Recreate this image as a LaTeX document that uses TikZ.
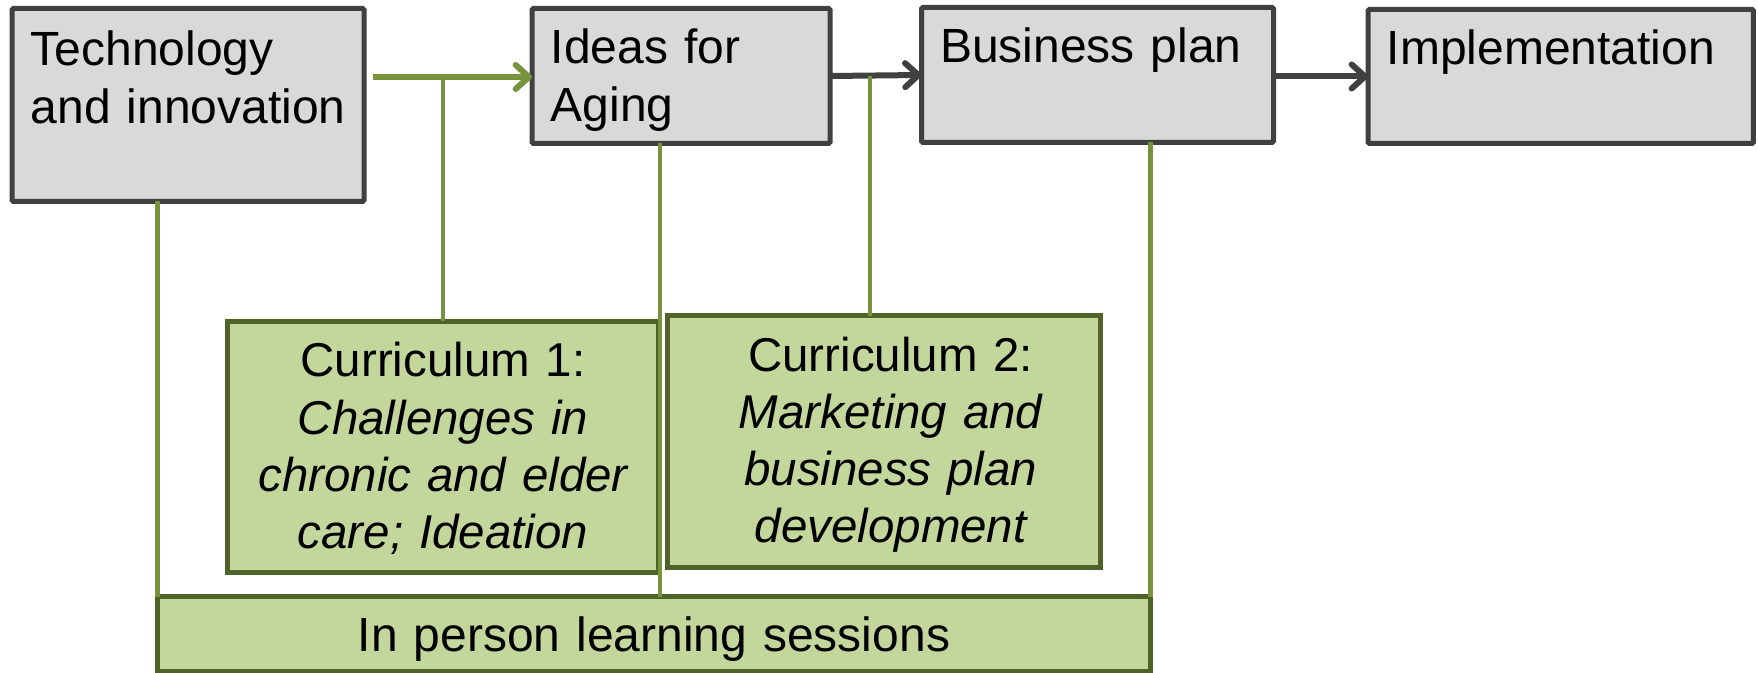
\documentclass[tikz,border=0pt]{standalone}
\usepackage{fontspec}
\setmainfont{Liberation Sans}
\usetikzlibrary{arrows.meta,calc}
\definecolor{boxgray}{HTML}{D9D9D9}
\definecolor{boxedge}{HTML}{404040}
\definecolor{curfill}{HTML}{C3D69B}
\definecolor{curedge}{HTML}{4F6228}
\definecolor{linkgreen}{HTML}{77933C}
\tikzset{
  txtfont/.style={font=\fontsize{36}{43.5}\selectfont},
  curfont/.style={font=\fontsize{35.6}{42.8}\selectfont},
  greybox/.style={txtfont, draw=boxedge, fill=boxgray, line width=3.75pt, rounded corners=1pt,
    anchor=north west, outer sep=0pt, inner xsep=14pt, inner ysep=0pt, align=left},
  greenbox/.style={txtfont, draw=curedge, fill=curfill, line width=3.75pt,
    anchor=north west, outer sep=0pt, inner xsep=14pt, inner ysep=0pt, align=center},
  greenarrow/.style={draw=linkgreen, line width=4.5pt, -{Straight Barb[length=10pt,width=18pt,round]}},
  greyarrow/.style={draw=boxedge, line width=4.5pt, -{Straight Barb[length=10pt,width=18pt,round]}},
  greenlink/.style={draw=linkgreen, line width=3.4pt}
}
\begin{document}
\begin{tikzpicture}[x=0.75pt,y=-0.75pt]
\useasboundingbox (0,0) rectangle (1758,673);
% top row
\node[greybox, text width=236pt, text height=42.4pt, text depth=102.35pt] (tech) at (12,8.5)
  {Technology\\\mbox{and innovation}};
\node[greybox, text width=195.5pt, text height=41.6pt, text depth=59.65pt] (ideas) at (532,8.5)
  {Ideas for\\Aging};
\node[greybox, text width=236pt, text height=40.9pt, text depth=60.35pt] (bp) at (921.5,7.5)
  {Business plan};
\node[greybox, text width=261.1pt, text height=40.9pt, text depth=59.6pt] (impl) at (1368,9.5)
  {Implementation};
% curricula
\node[greenbox, curfont, text width=295.25pt, text height=41.6pt, text depth=146.65pt] (cur1) at (227.5,321.5)
  {Curriculum 1:\\\itshape Challenges in\\\itshape chronic and elder\\\itshape care; Ideation};
\node[greenbox, curfont, text width=296.75pt, text height=41.25pt, text depth=147.35pt] (cur2) at (667.5,316)
  {\hspace*{10pt}Curriculum 2:\\\hspace*{10pt}\itshape Marketing and\\\hspace*{10pt}\itshape business plan\\\hspace*{10pt}\itshape development};
% learning sessions
\node[greenbox, text width=716.75pt, text height=41.6pt, text depth=14.3pt] (inperson) at (157.5,596.5)
  {In person learning sessions};
% connectors
\coordinate (a1s) at ($(tech.east |- ideas.west)+(9,1)$);
\draw[greenarrow] (a1s) -- ($(ideas.west)+(0,1)$);
\draw[greyarrow] (ideas.east) -- (bp.west);
\draw[greyarrow] (bp.east |- impl.west) -- (impl.west);
\draw[greenlink] (cur1.north) -- (cur1.north |- a1s);
\coordinate (c2t) at ($(cur2.north)+(-14,0)$);
\draw[greenlink] (c2t) -- (c2t |- ideas.east);
\draw[greenlink] (inperson.north west) -- (inperson.north west |- tech.south);
\coordinate (iv) at ($(ideas.south west)+(128,0)$);
\draw[greenlink] (iv) -- (iv |- inperson.north);
\draw[greenlink] (inperson.north east) -- (inperson.north east |- bp.south);
\end{tikzpicture}
\end{document}
